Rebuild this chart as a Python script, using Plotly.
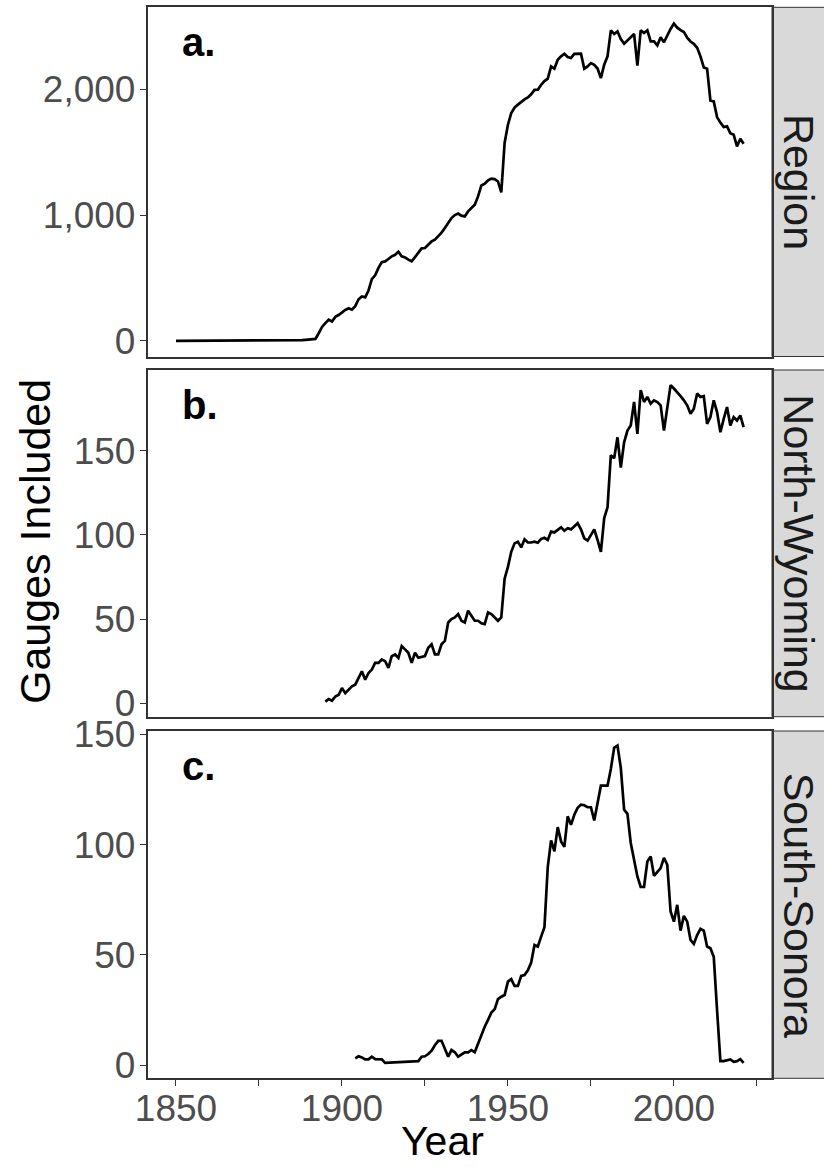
import plotly.graph_objects as go

# ---------------- data ----------------
region_years = list(range(1850, 2022))
region_counts = (
    [0] * 30 +                                                   # 1850-1879
    [1, 1, 2, 2, 3, 3, 4, 5, 6, 8] +                             # 1880-1889
    [10, 10, 15, 60, 110, 140, 167, 153, 190, 205] +             # 1890-1899
    [228, 245, 258, 247, 275, 330, 352, 345, 400, 490] +         # 1900-1909
    [520, 580, 625, 631, 650, 672, 684, 708, 672, 663] +         # 1910-1919
    [645, 632, 665, 700, 735, 738, 765, 790, 805, 830] +         # 1920-1929
    [860, 897, 940, 976, 1000, 1012, 995, 989, 1029, 1060] +     # 1930-1939
    [1082, 1148, 1235, 1249, 1275, 1290, 1286, 1267, 1180, 1573] +  # 1940-1949
    [1718, 1811, 1855, 1878, 1900, 1920, 1935, 1960, 1995, 1997] +  # 1950-1959
    [2035, 2065, 2085, 2182, 2164, 2235, 2262, 2283, 2257, 2249] +  # 1960-1969
    [2281, 2283, 2283, 2164, 2182, 2208, 2195, 2165, 2089, 2196] +  # 1970-1979
    [2262, 2469, 2440, 2461, 2400, 2363, 2389, 2415, 2440, 2188] +  # 1980-1989
    [2469, 2448, 2469, 2381, 2381, 2349, 2414, 2374, 2430, 2480] +  # 1990-1999
    [2522, 2490, 2470, 2456, 2410, 2380, 2362, 2330, 2262, 2174] +  # 2000-2009
    [2164, 1909, 1904, 1779, 1735, 1700, 1705, 1650, 1639, 1546] +  # 2010-2019
    [1607, 1567]                                                 # 2020-2021
)

north_years = list(range(1895, 2022))
north_counts = [
    1, 2.5, 1.5, 4, 5, 9, 6, 8, 10, 11,
    15, 19, 14, 18, 20, 24, 24, 26, 25, 21,
    28, 29, 27, 34, 32, 30, 24, 30, 27, 27.5,
    28, 33, 35, 29, 29, 35, 37, 48, 50, 51,
    53, 49, 48, 55, 52, 49, 49, 47.5, 47, 54,
    53, 51, 49, 51, 74, 81, 90, 95, 96, 92.6,
    97.4, 95.5, 95.5, 96, 95.4, 97.6, 98.3, 97, 102, 101.5,
    103, 104.5, 102.5, 104, 103.3, 105, 107, 103.3, 98, 96.6,
    100, 103.3, 97, 90, 110, 116.4, 147.4, 145.5, 158, 140,
    155, 162, 165, 179, 160, 186, 179, 182, 178, 180,
    179, 177, 162, 176, 189, 187, 185, 182.5, 180, 177,
    172, 175, 184, 182, 182.5, 166, 170, 180, 173, 161,
    169, 176, 165, 170, 168, 171, 164,
]

south_years = list(range(1904, 1914)) + list(range(1923, 2022))
south_counts = [
    3, 4, 3.5, 2.6, 2.6, 3.8, 2.7, 2.7, 2.6, 1,
    1.8, 3.8, 4, 5, 6.5, 9, 11, 11, 7.6, 3.8,
    6.8, 5.8, 3.8, 4.8, 5.8, 5.8, 6.8, 5.8, 9.9, 13.6,
    17.4, 20.5, 23.8, 25.3, 29.9, 31, 31.8, 37.9, 39, 35.9,
    35.9, 40.5, 40.9, 43, 46.5, 54.5, 53.8, 58.3, 62.6, 90,
    102, 97, 108, 101.5, 99, 112.9, 109, 113.6, 116.7, 118.2,
    117.9, 117, 117, 111, 119.7, 126.8, 126.8, 126.8, 134.4, 144,
    145, 134.9, 115.9, 114, 100.8, 93.2, 85.6, 80.8, 80.8, 92.4,
    94.7, 85.9, 87.9, 89.4, 94, 90.9, 69.7, 65.1, 72.7, 61,
    67.7, 65.1, 56.8, 55, 59, 61.8, 61, 53.8, 53, 49.2,
    25, 1.8, 1.8, 2.2, 2.6, 1.5, 1.8, 2.7, 1,
]

panel_names = ["Region", "North-Wyoming", "South-Sonora"]
panel_tags = ["a.", "b.", "c."]
x_tickvals = [1850, 1875, 1900, 1925, 1950, 1975, 2000, 2025]
x_ticktext = ["1850", "", "1900", "", "1950", "", "2000", ""]

for yrs, vals in [(region_years, region_counts), (north_years, north_counts), (south_years, south_counts)]:
    if len(yrs) != len(vals):
        raise SystemExit(f"length mismatch {len(yrs)} vs {len(vals)}")

# ---------------- layout geometry ----------------
W, H = 824, 1167
def px_x(x):
    return x / W
def px_y(y):
    return 1 - y / H

x_dom = [px_x(147.6), px_x(772)]
y_doms = [
    [px_y(356.5), px_y(7.3)],
    [px_y(716.7), px_y(370)],
    [px_y(1078.3), px_y(731)],
]
y_ranges = [[-125, 2652], [-8, 198], [-6, 151.6]]
x_range = [1841.45, 2029.55]

FONT = "Liberation Sans, Arial, Helvetica, sans-serif"
LINE = "#333333"

fig = go.Figure()
series = [(region_years, region_counts), (north_years, north_counts), (south_years, south_counts)]
for i, (yrs, vals) in enumerate(series):
    sfx = "" if i == 0 else str(i + 1)
    fig.add_trace(go.Scatter(
        x=yrs, y=vals, mode="lines",
        line=dict(color="black", width=2.7),
        xaxis="x" + sfx, yaxis="y" + sfx, showlegend=False,
        hoverinfo="skip",
    ))

layout = dict(
    width=W, height=H,
    margin=dict(l=0, r=0, t=0, b=0, pad=0, autoexpand=False),
    paper_bgcolor="white", plot_bgcolor="white",
    font=dict(family=FONT, color="black"),
    showlegend=False,
)

for i in range(3):
    sfx = "" if i == 0 else str(i + 1)
    xa = dict(
        domain=x_dom, range=x_range, anchor="y" + sfx,
        showline=True, mirror=True, linecolor=LINE, linewidth=1.5,
        showgrid=False, zeroline=False, automargin=False,
        tickvals=x_tickvals, ticktext=x_ticktext,
    )
    if i < 2:
        xa.update(ticks="", showticklabels=False)
    else:
        xa.update(ticks="outside", ticklen=6, tickwidth=1.3, tickcolor=LINE,
                  ticklabelstandoff=-9,
                  tickfont=dict(size=37, color="#4D4D4D", family=FONT))
    ya = dict(
        domain=y_doms[i], range=y_ranges[i], anchor="x" + sfx,
        showline=True, mirror=True, linecolor=LINE, linewidth=1.5,
        showgrid=False, zeroline=False, automargin=False,
        ticks="outside", ticklen=6, tickwidth=1.3, tickcolor=LINE,
        ticklabelstandoff=-3,
        tickfont=dict(size=37, color="#4D4D4D", family=FONT),
    )
    if i == 0:
        ya.update(tickvals=[0, 1000, 2000], tickformat=",")
    else:
        ya.update(tickvals=[0, 50, 100, 150])
    layout["xaxis" + sfx] = xa
    layout["yaxis" + sfx] = ya

shapes = []
annotations = []
for i in range(3):
    y0, y1 = y_doms[i]
    shapes.append(dict(
        type="rect", xref="paper", yref="paper",
        x0=px_x(772), x1=px_x(850), y0=y0, y1=y1,
        fillcolor="#D9D9D9", line=dict(color=LINE, width=1), layer="below",
    ))
    annotations.append(dict(
        text=panel_names[i], xref="paper", yref="paper",
        x=px_x(799), y=(y0 + y1) / 2, xanchor="center", yanchor="middle",
        textangle=90, showarrow=False,
        font=dict(size=43, color="#1A1A1A", family=FONT),
    ))
    top_px = [7.3, 370, 731][i]
    annotations.append(dict(
        text="<b>" + panel_tags[i] + "</b>", xref="paper", yref="paper",
        x=px_x(180), y=px_y(top_px + 35), xanchor="left", yanchor="middle",
        showarrow=False,
        font=dict(size=40, color="black", family=FONT),
    ))

annotations.append(dict(
    text="Year", xref="paper", yref="paper",
    x=px_x(442), y=px_y(1141), xanchor="center", yanchor="middle",
    showarrow=False, font=dict(size=41, color="black", family=FONT),
))
annotations.append(dict(
    text="Gauges Included", xref="paper", yref="paper",
    x=px_x(35), y=px_y(542), xanchor="center", yanchor="middle",
    textangle=-90, showarrow=False, font=dict(size=43, color="black", family=FONT),
))

layout["shapes"] = shapes
layout["annotations"] = annotations
fig.update_layout(**layout)
fig.write_html("out.html")
